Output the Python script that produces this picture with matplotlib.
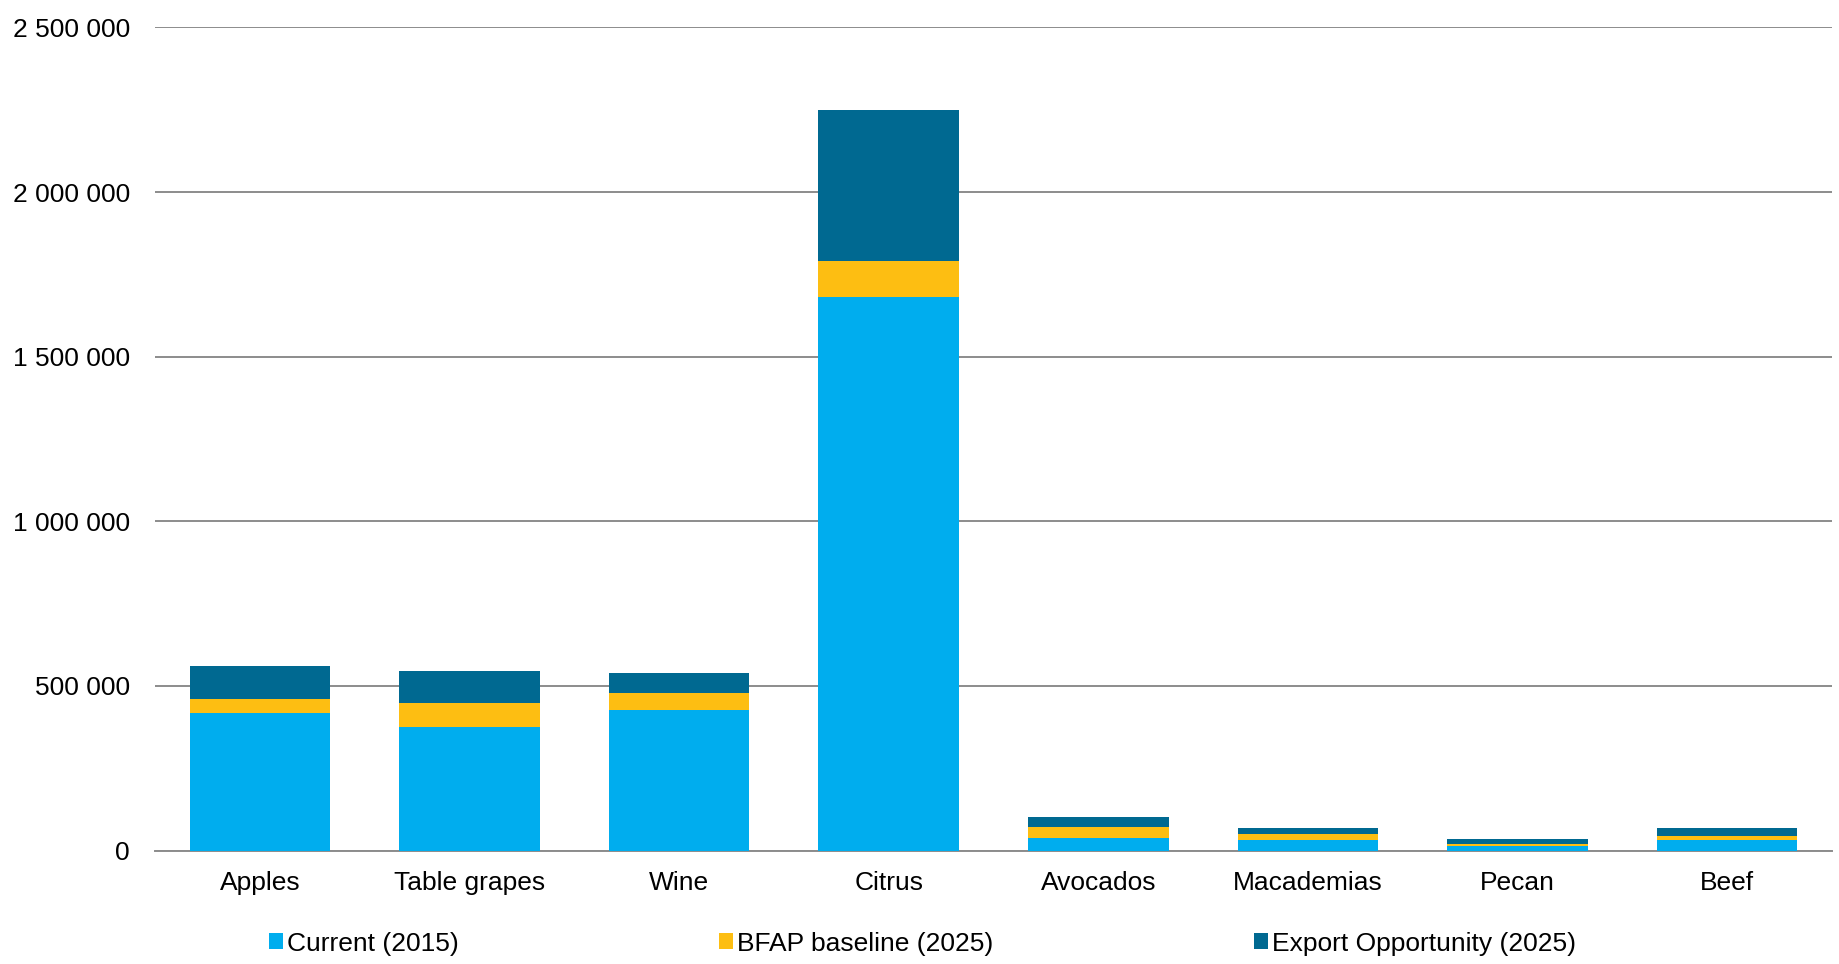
import numpy as np
import matplotlib
matplotlib.use('Agg')
import matplotlib.pyplot as plt
from matplotlib.ticker import FuncFormatter

plt.rcParams['font.family'] = ['Liberation Sans', 'DejaVu Sans']

# export volumes (tonnes) per commodity
products = ['Apples', 'Table grapes', 'Wine', 'Citrus', 'Avocados', 'Macademias', 'Pecan', 'Beef']
current_2015 = [417000, 376000, 427000, 1682000, 39000, 33000, 13000, 31000]
bfap_2025 = [42000, 71000, 51000, 110000, 31000, 17000, 7000, 13000]
export_opp_2025 = [101000, 98000, 61000, 457000, 31000, 17000, 15000, 24000]

c_cur = '#00ADEE'
c_bfap = '#FDBE12'
c_exp = '#006991'

fig = plt.figure(figsize=(18.39, 9.64), dpi=100)
ax = fig.add_axes([0.0843, 0.1177, 0.9119, 0.8538])

x = np.arange(len(products))
w = 0.67
cur = np.array(current_2015)
base = np.array(bfap_2025)
opp = np.array(export_opp_2025)

ax.bar(x, cur, w, color=c_cur, label='Current (2015)', zorder=3)
ax.bar(x, base, w, bottom=cur, color=c_bfap, label='BFAP baseline (2025)', zorder=3)
ax.bar(x, opp, w, bottom=cur + base, color=c_exp, label='Export Opportunity (2025)', zorder=3)

ax.set_xlim(-0.5, len(products) - 0.5)
ax.set_ylim(0, 2500000)
ax.set_yticks(np.arange(0, 2500001, 500000))
ax.yaxis.set_major_formatter(FuncFormatter(lambda v, p: '{:,.0f}'.format(v).replace(',', ' ')))
ax.set_xticks(x)
ax.set_xticklabels(products)

ax.grid(axis='y', color='#8C8C8C', linewidth=1.4, zorder=0)
for s in ['top', 'right', 'left']:
    ax.spines[s].set_visible(False)
ax.spines['bottom'].set_color('#8C8C8C')
ax.spines['bottom'].set_linewidth(1.4)
ax.tick_params(axis='both', length=0, labelsize=19, colors='black')
ax.tick_params(axis='y', pad=18)
ax.tick_params(axis='x', pad=15)

fig.legend(loc='center left', bbox_to_anchor=(0.139, 0.021), ncol=3, frameon=False,
           fontsize=19, handlelength=0.55, handleheight=0.55, handletextpad=0.15,
           columnspacing=9.85, borderpad=0)

fig.savefig('out.png', dpi=100)
